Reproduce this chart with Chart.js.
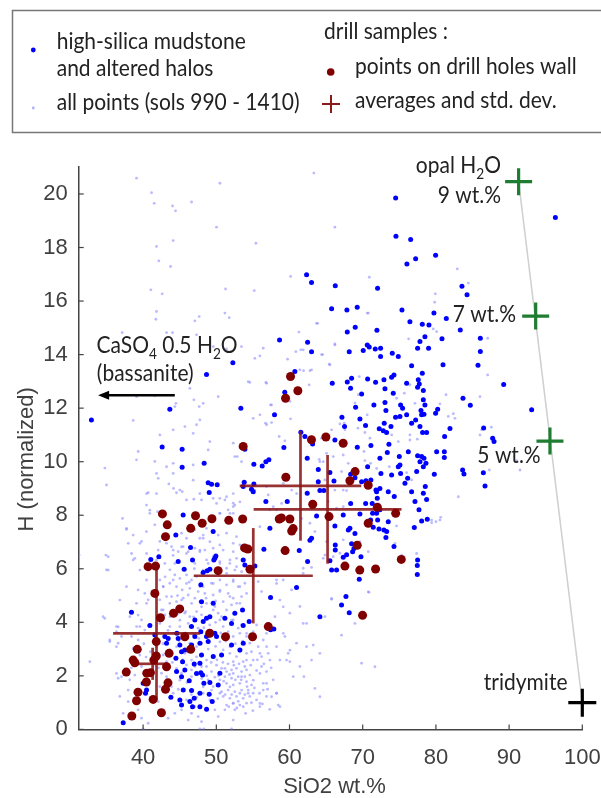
<!DOCTYPE html>
<html><head><meta charset="utf-8">
<script src="https://cdn.jsdelivr.net/npm/chart.js@4.4.0/dist/chart.umd.min.js"></script>
<style>html,body{margin:0;padding:0;background:#fff;}#wrap{width:601px;height:798px;position:relative;}</style>
</head><body><div id="wrap"><canvas id="c"></canvas></div>
<script>
const xTicks=[40,50,60,70,80,90,100];
const yTicks=[0,2,4,6,8,10,12,14,16,18,20];

// all points (sols 990 - 1410): [SiO2 wt.%, H normalized]
const allPoints=[
[39.1,20.59],[41.15,20.05],[41.51,19.65],[50.49,20.4],[46.62,19.7],[44.02,19.55],[44.43,19.37],[50.03,18.76],[41.83,18.04],[44.11,18.26],[55.41,18.16],[42.15,17.5],[43.75,17.29],[60.15,16.92],[41.06,16.42],[42.61,16.27],[51.26,16.45],[55.18,16.39],[41.83,15.61],[41.74,15.32],[47.66,15.42],[47.07,15.26],[51.17,15.55],[51.77,15.38],[37.14,14.82],[43.2,14.82],[44.02,14.82],[47.3,14.74],[49.58,14.3],[51.4,14.21],[39.1,12.43],[41.6,12.46],[38.64,11.54],[44.48,12.18],[44.34,12.06],[46.39,12.74],[46.94,12.31],[48.21,12.18],[47.66,12.06],[50.26,12.43],[54.36,12.99],[56.87,12.93],[57.41,12.12],[56.87,11.38],[55.96,11.75],[60.06,12.25],[42.29,11.0],[44.11,11.19],[45.71,11.31],[47.3,11.38],[46.84,11.06],[47.75,11.56],[49.12,10.75],[48.89,10.44],[52.31,10.69],[52.86,10.19],[39.33,10.38],[41.6,10.01],[44.11,9.94],[46.84,9.88],[34.77,9.76],[39.1,10.07],
[35.0,9.13],[37.19,7.88],[37.73,7.47],[34.91,6.51],[35.23,5.95],[31.26,6.51],[32.72,2.53],[34.77,4.15],[36.59,3.83],[36.36,3.65],[35.45,3.34],[36.36,2.09],[37.05,1.97],[36.36,3.09],[36.59,1.91],[40.01,0.02],[47.76,0.02],[48.3,0.02],[52.08,0.02],[40.47,8.81],[40.92,8.19],[38.64,7.26],[39.55,6.95],[38.42,6.57],[41.83,8.81],[43.2,9.81],[44.11,9.56],[45.02,8.94],[41.83,9.56],[42.06,9.38],[46.84,9.31],[47.75,8.81],[45.93,8.57],[51.4,8.69],[52.31,8.81],[53.22,8.5],[50.03,8.44],[52.31,8.32],[50.49,8.07],[51.86,8.07],[59.15,9.19],[60.29,8.94],[57.78,8.32],[58.92,8.44],[60.97,8.81],[58.23,5.45],[58.69,4.83],[59.15,4.58],[58.01,4.21],[59.15,3.59],[58.23,3.09],[60.06,2.96],[59.6,2.59],[60.51,1.97],[58.23,1.35],[57.55,1.22],[58.69,0.85],[55.96,0.97],[56.41,1.47],
[40.69,8.84],[43.51,9.17],[44.15,9.0],[44.56,8.84],[45.34,8.88],[46.93,8.6],[47.98,8.57],[40.46,8.38],[41.97,8.13],[40.92,8.07],[37.73,7.51],[37.96,6.95],[39.78,7.02],[40.46,7.39],[41.6,7.64],[42.28,7.02],[42.06,6.7],[45.25,7.33],[45.93,7.14],[47.07,7.45],[47.75,7.14],[48.21,7.26],[43.88,6.83],[44.79,6.64],[45.47,6.83],[46.16,6.64],[47.07,6.77],[47.75,6.64],[35.22,6.45],[34.99,5.96],[38.87,6.39],[42.97,6.2],[43.65,5.96],[44.33,5.77],[45.02,5.64],[45.93,5.77],[46.61,5.58],[47.3,5.71],[47.98,5.83],[42.28,5.58],[42.74,5.33],[43.65,5.46],[44.56,5.33],[45.34,5.21],[46.38,5.27],[47.52,5.15],[48.2,5.33],[39.32,5.21],[40.23,5.08],[40.69,4.84],[39.1,4.71],[42.28,4.84],[43.2,4.96],[43.65,4.71],[44.56,4.77],[45.47,4.9],[46.16,5.02],[47.07,4.9],[47.75,4.77],[42.51,4.46],[42.97,4.28],[43.88,4.4],[45.7,4.34],[46.38,4.21],[47.3,4.4],[47.98,4.28],[39.32,4.27],[39.78,4.09],[39.1,3.84],[40.23,3.71],[34.54,4.21],[36.36,3.84],[37.05,3.47],[36.59,3.22],[35.45,3.28],[38.41,3.47],[39.32,3.34],[38.64,3.03],[39.55,2.78],[42.28,3.96],[43.65,3.84],[44.11,3.59],[45.02,3.84],[46.16,3.96],[46.84,3.53],[47.52,3.78],[43.65,2.97],[42.74,2.78],[43.2,2.53],[46.38,3.22],[47.3,3.09],[47.98,3.22],[46.61,2.59],[47.98,2.35],[39.78,2.35],[38.87,2.03],[38.18,1.85],[37.96,1.47],[36.82,1.23],[37.96,1.04],[39.32,0.73],[37.27,0.6],[42.51,2.1],[43.2,1.85],[42.28,1.6],[43.88,1.6],[44.56,2.28],[45.25,2.1],[45.93,2.41],[46.61,2.22],[47.07,2.35],[42.06,1.04],[44.33,0.6],[45.25,0.73],[46.61,0.6],[47.52,0.48],[46.16,0.35],[47.98,0.29],[39.78,0.42],[40.69,0.23],[43.42,0.42],
[49.57,8.63],[50.48,8.63],[51.17,8.57],[52.31,8.45],[52.53,8.38],[51.62,8.2],[50.48,8.07],[52.31,8.07],[55.27,8.94],[57.09,8.76],[56.86,9.07],[57.32,8.2],[55.95,7.57],[58.23,8.2],[48.66,7.51],[48.21,7.14],[49.12,7.01],[50.26,7.26],[51.4,7.33],[52.76,7.2],[52.31,6.95],[50.48,6.89],[48.43,6.7],[49.57,6.77],[50.94,6.7],[52.31,6.64],[53.22,6.89],[48.89,6.2],[50.48,6.27],[51.85,6.2],[52.76,6.39],[51.4,6.02],[52.53,5.95],[53.45,5.89],[49.34,5.46],[50.48,5.58],[51.4,5.4],[52.31,5.52],[52.99,5.33],[53.9,5.46],[55.72,5.52],[56.18,5.15],[58.23,5.58],[48.43,5.08],[49.57,5.02],[50.48,5.15],[51.62,5.08],[52.31,4.9],[53.45,4.96],[53.22,4.71],[52.08,4.65],[50.94,4.77],[49.8,4.59],[48.66,4.71],[51.4,4.46],[50.26,4.34],[50.48,4.09],[52.31,4.09],[52.99,3.78],[51.62,3.65],[50.94,3.84],[52.31,3.47],[53.22,3.59],[54.13,3.47],[55.04,3.65],[54.58,3.22],[55.72,3.09],[56.41,3.34],[56.86,3.59],[55.5,3.9],[53.22,2.97],[54.13,2.84],[52.76,2.72],[51.85,2.84],[50.94,2.97],[52.31,2.53],[53.67,2.53],[55.04,2.59],[56.18,2.72],[57.09,2.84],
[50.71,2.28],[51.4,2.16],[52.08,2.22],[52.76,2.28],[53.45,2.16],[54.13,2.22],[54.58,2.03],[53.9,1.97],[52.99,1.97],[52.08,1.91],[51.17,1.97],[50.48,1.85],[51.4,1.72],[52.31,1.66],[53.22,1.72],[54.13,1.78],[54.81,1.66],[54.36,1.47],[53.45,1.47],[52.53,1.41],[51.62,1.47],[50.71,1.41],[50.94,1.23],[51.85,1.16],[52.76,1.23],[53.67,1.16],[54.58,1.23],[55.04,1.35],[52.31,0.98],[51.4,0.91],[53.22,0.91],[54.13,0.98],[52.53,0.73],[51.17,0.73],[56.18,2.35],[56.86,2.16],[56.41,1.72],[57.77,1.85],[58.23,1.35],[56.86,1.23],[55.95,0.85],[58.46,0.91],[60.05,2.53],[61.42,2.35],[48.66,2.35],[49.34,2.16],[48.89,1.85],[49.57,1.6],[48.21,1.35],[49.12,1.1],[49.8,0.73],[50.26,0.48],[52.31,0.35],
[59.14,5.58],[60.28,5.21],[61.42,4.59],[60.05,4.34],[61.87,3.96],[59.37,3.47],[60.96,3.22],[62.33,3.09],[59.82,2.84],[58.68,2.59],[61.87,5.83],
[65.75,4.89],[64.84,4.21],[63.24,3.15],[64.15,2.84],[63.01,2.59],[63.47,1.53],[64.15,1.22],[69.85,2.47],[71.67,2.34],[70.76,5.14],[68.94,3.96],[67.11,3.52],[62.33,3.96],[61.97,1.97],[77.37,6.57],[80.55,7.82],[79.42,7.82],[74.4,6.95],[75.54,6.45],[83.06,8.69],[91.49,9.69],[87.3,9.69],
[63.33,20.78],[66.2,18.76],[82.92,17.2],[70.9,16.89],[79.92,16.27],[79.83,15.96],[84.43,16.67],[70.76,15.55],[63.7,15.17],[66.2,14.4],[79.64,14.96],[80.1,14.86],[76.27,14.59],[87.07,14.61],[61.88,14.18],[62.79,13.4],[61.42,13.43],[65.52,13.62],[64.38,14.0],[69.53,13.18],[70.76,13.06],[76.45,12.87],[77.59,12.91],[87.07,13.24],[86.02,12.43],[68.94,12.19],[69.39,12.5],[80.55,12.16],[81.38,12.5],[81.69,11.69],[82.38,11.79],[86.02,11.0],[67.48,11.44],[65.75,11.19],[64.38,10.88],[70.99,10.88],[70.17,10.38],[76.45,10.81],[77.46,10.84],[82.6,11.62],[87.57,11.29],[86.25,11.19],[91.03,10.04],
[63.83,15.17],[61.28,14.84],[53.44,14.3],[55.27,13.86],[55.95,13.95],[56.41,14.24],[59.73,13.83],[64.52,14.0],[66.2,14.36],[70.62,15.55],[61.55,14.18],[60.87,14.11],[61.92,13.4],[63.01,13.43],[65.43,13.64],[54.58,12.96],[56.77,12.96],[62.69,12.87],[57.55,12.12],[56.72,11.44],[57.55,11.46],[60.14,11.6],[55.04,11.62],[52.53,10.19],[53.44,10.0],[58.59,10.94],[59.37,10.78],[64.15,10.0],[65.52,9.57],[64.83,9.32],[69.35,11.25],[70.62,11.75],[70.3,11.09],[77.14,12.18],[74.63,12.37],[75.68,12.56],[66.88,11.41],[67.57,11.19],[73.95,11.0],[74.86,10.75],[76.45,11.0],
[64.06,10.09],[64.61,10.0],[65.06,10.31],[65.98,10.19],[67.34,10.25],[68.03,9.94],[70.3,10.04],[71.08,9.94],[73.63,9.81],[76.0,9.59],[76.68,9.32],[79.42,7.72],[80.65,7.92],[80.01,7.76],[71.9,9.75],[67.11,9.63],[66.2,8.94],[67.34,8.94],[67.8,8.92],[66.43,8.26],[65.29,8.51],[67.34,8.32],[63.01,8.26],[62.79,7.7],[63.47,7.39],[61.65,7.88],[65.06,7.01],[64.84,6.51],[64.61,6.39],[66.89,6.58],[65.98,6.45],[67.34,7.08],[69.62,7.01],[70.76,6.64],[74.63,7.6],[75.32,6.51],[70.85,5.12],[65.75,4.86],[61.88,6.02],[63.01,6.05],
[43.2,6.95],[44.11,6.7],[45.25,6.82],[45.93,6.57],[47.76,6.7],[48.67,6.33],[49.58,6.45],[50.49,6.2],[51.86,6.33],[52.77,6.08],[53.91,6.33],[44.34,6.2],[47.07,6.2],[48.21,5.95],[51.4,5.83],[52.31,5.58],[53.22,5.33],[54.13,5.08],[44.11,5.58],[45.93,5.45],[47.76,5.33],[49.58,5.45],[50.49,5.2],[51.86,4.96],[52.77,4.71],[53.68,4.46],[43.88,4.96],[45.25,4.83],[46.62,4.71],[47.98,4.58],[49.58,4.46],[50.72,4.21],[52.08,4.08],[53.45,3.9],[54.13,3.59],[43.66,4.21],[45.02,4.08],[46.39,3.84],[47.76,3.71],[49.12,3.46],[50.49,3.27],[51.86,3.09],[53.22,2.9],[54.13,2.59],[55.96,2.84],[56.87,3.09],[57.32,2.59],[43.43,3.34],[44.57,3.09],[45.71,2.84],[47.3,2.71],[48.67,2.59],[50.03,2.4],[51.17,2.28],[52.31,2.09],[53.45,1.97],[55.05,1.84],[55.96,2.09],[56.87,1.72],[51.86,1.59],[50.49,1.35],[49.35,1.47],[48.21,1.59],[53.22,1.35],[54.36,1.35],[55.5,1.1],[52.31,0.97],[53.68,0.85],[45.93,1.1],[47.07,0.85],[44.11,1.35],[45.02,1.84],[43.2,1.97],[46.62,1.97],[41.83,3.09],[42.74,4.46],[41.38,5.08],[40.47,5.58],[42.74,5.33],[41.83,6.33],[40.47,6.57],[39.55,5.95],[38.64,6.33],[37.73,5.33],[36.82,4.83],[38.19,4.21],[39.55,3.84],[40.47,4.71],
[50.1,2.6],[50.9,2.5],[51.6,2.45],[52.4,2.4],[53.1,2.45],[53.9,2.35],[54.7,2.4],[55.5,2.2],[50.3,2.0],[51.0,1.8],[51.8,2.05],[52.6,1.85],[53.4,1.85],[54.2,1.6],[55.2,1.55],[50.2,1.15],[51.2,1.3],[52.1,1.3],[53.0,1.05],[53.9,1.3],[54.8,1.0],[51.7,0.85],[52.8,0.8],[49.8,1.95],[49.3,2.5],[48.9,3.0],[49.9,3.1],[50.6,3.6],[51.3,3.3],[52.6,3.2],[53.6,3.3],[54.8,2.9],[55.6,2.6],[56.5,2.45],[57.5,2.3],[57.0,1.5],[55.9,1.35],[56.3,0.95],[57.3,0.75],[54.0,0.6],[55.0,0.7],[46.0,1.75],[46.6,1.3],[47.3,1.2],[48.0,1.9],[48.7,2.0],[44.8,1.5],[45.4,2.6],[46.1,2.9],[44.0,2.5],[44.9,3.3],[45.8,3.6],[46.9,4.2],[47.6,3.4],[48.3,3.8],[49.1,3.9],[49.9,4.0],[48.6,4.9],[49.9,4.8],[45.8,4.4],[44.7,4.3],[43.4,3.7],[42.7,3.2],[41.0,2.9],[40.1,3.2],[38.9,2.6],[38.4,2.3],[40.4,2.7],[42.1,2.3],[44.7,5.0],[46.3,5.5],[47.0,6.0],[43.0,5.7],[44.1,6.5]
];

// high-silica mudstone and altered halos
const mudstonePoints=[
[32.94,11.56],[48.66,13.26],[43.65,11.96],[59.35,12.59],[42.6,10.55],[45.33,10.46],[53.9,10.46],[45.33,9.79],[48.34,9.94],
[48.89,9.21],[49.35,9.16],[50.12,9.14],[49.03,8.85],
[63.01,16.69],[66.25,16.57],[72.03,16.48],[65.75,15.71],[67.84,15.67],[69.25,15.77],[75.36,15.67],[76.45,15.23],[78.14,15.13],[79.05,15.11],[68.98,15.02],[67.89,14.84],[71.94,14.91],[78.5,14.67],[77.82,14.49],[77.5,14.24],[79.0,14.24],[58.64,14.55],[62.47,14.46],[63.01,14.11],[68.16,14.11],[70.07,14.15],[70.62,14.36],[70.89,14.28],[71.71,14.21],[72.44,14.24],[72.44,13.93],[74.04,14.05],[74.86,13.93],[76.68,13.58],[78.14,13.3],[52.26,13.7],[60.73,13.37],[65.84,12.93],[67.89,12.98],[68.48,13.12],[68.34,12.74],[70.67,13.09],[71.76,12.97],[72.9,13.06],[73.95,13.15],[74.27,13.24],[76.0,12.93],[77.59,13.06],[77.73,12.9],[77.5,12.78],[78.28,12.66],[73.04,12.72],[69.85,12.53],[71.53,12.12],[73.04,12.21],[73.17,11.91],[74.17,12.56],[78.28,12.31],[78.5,12.12],[77.96,11.91],[78.37,11.77],[75.18,12.12],[75.45,12.0],[69.03,12.03],[69.62,11.59],[67.16,11.66],[67.52,11.31],[70.39,11.35],[72.26,11.23],[72.81,11.16],[73.26,11.09],[73.86,11.31],[74.49,11.66],[75.09,11.69],[76.0,11.75],[76.68,11.44],[77.23,11.56],[78.05,11.75],[77.82,11.31],[78.18,11.09],[78.73,11.09],[72.94,11.44],[53.35,12.0],[57.95,11.75],[61.55,11.1],[62.1,10.94],[59.23,10.53],[55.13,9.9],[56.27,9.84],[56.77,10.0],[57.18,10.07],[53.81,9.23],[55.13,9.17],
[74.5,19.85],[96.32,19.12],[74.54,18.42],[76.55,18.3],[79.96,17.71],[77.23,17.58],[76.04,17.38],[62.33,16.98],[83.56,16.55],[84.25,16.24],[79.73,15.55],[81.42,15.35],[83.33,14.92],[86.07,14.61],[80.83,14.59],[86.07,14.12],[85.75,13.6],[80.97,13.62],[89.26,12.88],[83.7,12.37],[84.7,12.11],[93.08,11.94],[86.52,11.26],[87.75,10.88],[87.94,10.75],[81.19,10.94],[81.92,11.24],[79.96,11.81],[80.24,11.96],
[83.65,9.69],[83.83,9.54],[86.48,9.59],[86.71,9.09],[64.15,4.21],[68.16,4.36],
[63.15,10.66],[66.2,10.81],[69.26,10.54],[71.12,10.6],[73.58,10.65],[73.36,10.34],[75.0,10.19],[76.23,10.37],[77.5,10.22],[78.05,10.19],[78.37,10.13],[77.82,10.0],[78.64,9.94],[78.28,9.81],[77.37,9.63],[79.78,9.53],[80.1,10.37],[81.15,10.37],[81.15,10.16],[72.35,10.13],[72.49,9.56],[70.67,9.81],[73.95,9.5],[75.09,9.88],[75.18,9.56],[74.86,9.81],[76.14,9.38],[75.77,9.19],[78.55,9.07],[76.68,8.88],[78.28,8.82],[78.73,8.59],[77.14,8.51],[74.31,8.7],[73.49,8.88],[72.35,9.0],[71.9,8.88],[71.99,8.63],[71.3,8.44],[70.4,8.44],[71.35,8.07],[72.35,8.2],[71.9,8.07],[72.04,7.82],[71.08,7.82],[73.49,7.76],[72.22,7.49],[72.9,7.45],[73.27,7.39],[73.17,7.17],[74.27,6.83],[71.44,7.55],[69.62,8.05],[68.35,8.44],[67.34,8.01],[68.25,7.51],[68.03,7.45],[68.94,7.32],[68.48,6.93],[68.8,6.76],[68.62,6.64],[69.76,6.45],[67.8,6.52],[67.34,6.43],[66.25,6.89],[66.25,6.7],[65.52,6.3],[65.75,5.95],[66.43,5.95],[69.53,5.61],[67.71,4.96],[67.11,4.65],[77.5,6.33],[77.46,6.12],[77.46,5.79],[77.05,7.54],[77.69,8.2],[78.05,7.78],[78.82,7.85],[64.15,8.92],[64.7,8.92],[63.93,9.25],[63.93,9.71],[62.42,10.13],[62.42,8.82],[63.7,7.97],[62.79,7.07],[63.01,7.14],[62.47,6.27],[66.2,7.6],[68.35,9.53],[68.94,9.4],[69.85,9.25],[70.44,9.29],[71.12,9.32],[71.81,8.94],[66.07,9.28],[65.52,9.6],
[45.47,8.01],[44.47,7.26],[46.48,6.79],[42.15,6.45],[41.05,6.35],[44.79,6.27],[46.75,6.33],[45.61,5.98],[47.89,5.4],[38.41,4.38],[40.92,3.88],[42.97,3.47],[43.42,3.4],[44.61,3.59],[44.79,3.4],[46.61,3.84],[47.07,3.47],[47.89,3.65],[41.6,3.53],[47.98,4.77],[47.07,4.09],[43.2,3.22],
[37.28,0.25],[40.01,1.72],[40.47,1.47],[40.33,1.35],[43.2,2.41],[43.79,1.2],[44.48,2.66],[45.25,2.9],[45.7,2.97],[45.39,2.53],[44.57,2.16],[45.7,2.22],[46.98,2.44],[47.76,2.47],[45.25,1.97],[46.3,1.82],[47.3,2.09],[47.89,2.12],[48.12,2.03],[46.62,1.45],[45.48,1.47],[46.98,1.16],[47.76,1.35],[45.02,1.1],[45.25,0.91],[46.39,1.04],[46.75,0.85],[47.76,0.85],[48.67,0.75],[49.44,1.04],[48.3,1.72],[49.12,1.75],[50.49,2.1],[50.26,1.66],[49.03,1.31],[45.02,3.15],[46.62,3.15],[47.76,3.22],[48.89,3.28],[47.98,2.78],[49.58,2.72],[50.72,2.78],[52.08,3.15],[53.68,3.22],[53.22,2.97],
[53.67,9.07],[54.81,8.97],[55.04,8.88],[56.77,8.51],[59.69,8.51],[57.32,7.51],[56.5,6.73],[61.33,6.68],[49.57,7.39],[49.94,6.48],[49.8,6.39],[49.66,6.33],[48.75,5.93],[48.21,5.86],[49.12,5.98],[53.67,6.33],[53.9,6.14],[55.27,6.1],[60.96,5.3],[57.41,4.93],[53.58,4.46],[52.53,4.34],[53.67,3.88],[54.49,4.03],[57.86,3.75],[57.41,3.72],[51.17,4.15],[52.08,3.96],[49.57,4.71],[49.12,4.21],[48.21,4.03],[48.66,4.15],[49.8,3.59],[50.03,3.47],[48.66,3.47]
];

// drill samples: points on drill holes wall
const drillPoints=[
[42.64,8.05],[43.3,7.64],[43.06,7.2],[47.16,7.98],[46.5,7.51],[48.07,7.7],[49.4,7.87],[51.7,7.81],[53.6,7.86],[53.86,6.78],[54.3,6.74],[54.6,5.98],[50.25,5.93],[54.95,3.46],[57.1,3.84],[51.26,3.46],[49.1,3.59],[45.7,3.46],[46.5,2.99],[44.15,4.34],[45.0,4.5],[42.37,4.17],[40.68,6.08],[41.7,6.1],[41.6,5.08],[41.8,3.28],[41.8,2.74],[43.55,2.84],[43.2,2.34],[39.2,2.99],[38.64,2.59],[38.87,2.49],[37.7,2.14],[40.5,2.1],[41.0,2.12],[40.45,1.77],[43.4,1.74],[43.06,1.5],[39.3,1.39],[39.1,1.07],[41.37,1.12],[42.5,0.62],[38.46,0.5],[41.46,2.59],
[59.5,9.42],[60.05,7.86],[58.6,7.86],[58.9,7.9],[60.3,7.41],[60.5,7.5],[59.4,6.68],[60.14,13.18],[61.14,12.65],[59.46,12.37],[53.67,10.57],[63.0,10.82],[64.97,10.92],[67.33,10.69],[68.96,9.63],[68.25,9.29],[70.75,9.12],[63.17,8.41],[65.4,7.95],[72.0,8.3],[74.5,8.07],[70.75,7.7],[69.25,6.88],[75.27,6.35],[67.57,6.1],[69.6,5.95],[71.76,5.99],[69.98,4.26]
];

// drill samples: averages and standard deviations
const avgX=[41.83,41.3,55.05,61.5,65.2];
const avgY=[3.59,2.45,5.74,9.1,8.22];
const sdX=[5.93,2.0,8.13,8.3,10.1];
const sdY=[2.49,0.6,1.78,2.05,2.03];

// opal with different H2O content, and tridymite end member
const opalX=[91.3,93.63,95.58];
const opalY=[20.46,15.44,10.77];
const opalLabels=['9 wt.%','7 wt.%','5 wt.%'];
const tridymiteX=[100];
const tridymiteY=[1.0];

// annotation anchors (data units)
const annot={
  opalTitle:{x:88.89,y:20.77},
  opalLab:[{x:88.89,y:19.65},{x:90.94,y:15.23},{x:94.31,y:9.96}],
  trid:{x:86.55,y:1.47},
  caso:{x:33.63,y:14.06},
  bass:{x:33.67,y:13.01},
  arrow:{x1:44.33,x2:33.85,y:12.48}
};

const pairs=a=>a.map(p=>({x:p[0],y:p[1]}));
const barSets=[];
for(let i=0;i<avgX.length;i++){
  const st={type:'scatter',showLine:true,pointRadius:0,borderColor:'rgba(139,22,22,0.88)',borderWidth:2.7,order:7,clip:false};
  barSets.push(Object.assign({data:[{x:avgX[i]-sdX[i],y:avgY[i]},{x:avgX[i]+sdX[i],y:avgY[i]}]},st));
  barSets.push(Object.assign({data:[{x:avgX[i],y:avgY[i]-sdY[i]},{x:avgX[i],y:avgY[i]+sdY[i]}]},st));
}

const FAM='Lato, "Open Sans", sans-serif';
const FS=23, SUB=15;
let HS=0.95;
function drawParts(ctx,parts,x,y,align){
  let total=0;
  parts.forEach(p=>{ctx.font=p.s+'px '+FAM;p.w=ctx.measureText(p.t).width;total+=p.w;});
  const x0=align==='right'?x-total*HS:x;
  ctx.save();ctx.translate(x0,y);ctx.scale(HS,1);
  let cx=0;
  parts.forEach(p=>{ctx.font=p.s+'px '+FAM;ctx.fillText(p.t,cx,p.dy||0);cx+=p.w;});
  ctx.restore();
}

const extras={
  id:'extras',
  afterDraw(chart){
    const ctx=chart.ctx,xs=chart.scales.x,ys=chart.scales.y,a=chart.chartArea;
    ctx.save();
    ctx.font=FS+'px '+FAM;
    HS=221.7/ctx.measureText('points on drill holes wall').width;
    // inward tick marks
    ctx.strokeStyle='#444';ctx.lineWidth=1.2;
    xTicks.forEach(v=>{const p=xs.getPixelForValue(v);ctx.beginPath();ctx.moveTo(p,a.bottom);ctx.lineTo(p,a.bottom-5);ctx.stroke();});
    yTicks.forEach(v=>{const p=ys.getPixelForValue(v);ctx.beginPath();ctx.moveTo(a.left,p);ctx.lineTo(a.left+5,p);ctx.stroke();});
    // axis titles
    ctx.fillStyle='#404040';ctx.textBaseline='alphabetic';
    ctx.font='22px "Liberation Sans", Arial, sans-serif';
    ctx.textAlign='center';
    ctx.fillText('SiO2 wt.%',(a.left+a.right)/2+4,793);
    ctx.save();ctx.translate(33,(a.top+a.bottom)/2+11);ctx.rotate(-Math.PI/2);
    ctx.fillText('H (normalized)',0,0);ctx.restore();
    ctx.textAlign='left';
    // legend box
    ctx.strokeStyle='#777';ctx.lineWidth=1.5;
    ctx.strokeRect(12.5,10.5,590,122);
    ctx.fillStyle='#0000ff';ctx.beginPath();ctx.arc(33.3,50,2.4,0,Math.PI*2);ctx.fill();
    ctx.fillStyle='rgba(140,140,255,0.7)';ctx.beginPath();ctx.arc(33.3,108,1.4,0,Math.PI*2);ctx.fill();
    ctx.fillStyle='#800000';ctx.beginPath();ctx.arc(330.7,72,3.8,0,Math.PI*2);ctx.fill();
    ctx.strokeStyle='#8b1a1a';ctx.lineWidth=2;
    ctx.beginPath();ctx.moveTo(322,104);ctx.lineTo(340,104);ctx.moveTo(331,95);ctx.lineTo(331,113);ctx.stroke();
    ctx.fillStyle='#222';
    drawParts(ctx,[{t:'high-silica mudstone',s:FS}],56.7,49);
    drawParts(ctx,[{t:'and altered halos',s:FS}],56.7,76);
    drawParts(ctx,[{t:'all points (sols 990 - 1410)',s:FS}],56.7,110);
    drawParts(ctx,[{t:'drill samples :',s:FS}],324,39.3);
    drawParts(ctx,[{t:'points on drill holes wall',s:FS}],355,74);
    drawParts(ctx,[{t:'averages and std. dev.',s:FS}],355,108.3);
    // annotations
    const X=v=>xs.getPixelForValue(v),Y=v=>ys.getPixelForValue(v);
    drawParts(ctx,[{t:'opal H',s:FS},{t:'2',s:SUB,dy:6},{t:'O',s:FS}],X(annot.opalTitle.x),Y(annot.opalTitle.y),'right');
    opalLabels.forEach((t,i)=>{const o=annot.opalLab[i];drawParts(ctx,[{t:t,s:FS}],X(o.x),Y(o.y),'right');});
    drawParts(ctx,[{t:'tridymite',s:FS}],X(annot.trid.x),Y(annot.trid.y));
    drawParts(ctx,[{t:'CaSO',s:FS},{t:'4',s:SUB,dy:6},{t:' 0.5 H',s:FS},{t:'2',s:SUB,dy:6},{t:'O',s:FS}],X(annot.caso.x),Y(annot.caso.y));
    drawParts(ctx,[{t:'(bassanite)',s:FS}],X(annot.bass.x),Y(annot.bass.y));
    // arrow
    const ax1=X(annot.arrow.x1),ax2=X(annot.arrow.x2),ay=Y(annot.arrow.y);
    ctx.strokeStyle='#000';ctx.fillStyle='#000';ctx.lineWidth=2.5;
    ctx.beginPath();ctx.moveTo(ax1,ay);ctx.lineTo(ax2+8,ay);ctx.stroke();
    ctx.beginPath();ctx.moveTo(ax2,ay);ctx.lineTo(ax2+11,ay-4.5);ctx.lineTo(ax2+11,ay+4.5);ctx.closePath();ctx.fill();
    ctx.restore();
  }
};

const tickFont={family:'"Liberation Sans", Arial, sans-serif',size:22};
new Chart(document.getElementById('c'),{
  type:'scatter',
  data:{datasets:[
    {data:[{x:opalX[0],y:opalY[0]},{x:tridymiteX[0],y:tridymiteY[0]}],showLine:true,pointRadius:0,borderColor:'#cfcfcf',borderWidth:1.5,order:10,clip:false},
    {data:pairs(allPoints),pointRadius:1.4,backgroundColor:'rgba(140,140,255,0.6)',borderWidth:0,order:9},
    {data:pairs(mudstonePoints),pointRadius:2.5,backgroundColor:'#0000ff',borderWidth:0,order:8},
    ...barSets,
    {data:pairs(drillPoints),pointRadius:4.5,backgroundColor:'#800000',borderWidth:0,order:6},
    {data:opalX.map((v,i)=>({x:v,y:opalY[i]})),pointStyle:'cross',pointRadius:13.5,borderColor:'#1f7d32',borderWidth:3.2,pointBorderWidth:3.2,order:5,clip:false},
    {data:tridymiteX.map((v,i)=>({x:v,y:tridymiteY[i]})),pointStyle:'cross',pointRadius:14,borderColor:'#000',borderWidth:3.2,pointBorderWidth:3.2,order:4,clip:false}
  ]},
  options:{
    responsive:true,maintainAspectRatio:false,animation:false,events:[],
    layout:{padding:{top:167.2,right:18.7,left:0,bottom:0}},
    plugins:{legend:{display:false},tooltip:{enabled:false}},
    scales:{
      x:{type:'linear',min:31.2,max:100,
        grid:{display:false,drawTicks:false},
        border:{display:true,color:'#444',width:1.5},
        ticks:{color:'#404040',font:tickFont,padding:15,maxRotation:0},
        afterBuildTicks:s=>{s.ticks=xTicks.map(v=>({value:v}));},
        afterFit:s=>{s.height=68.6;s.paddingLeft=0;s.paddingRight=0;}},
      y:{type:'linear',min:0,max:21,
        grid:{display:false,drawTicks:false},
        border:{display:true,color:'#444',width:1.5},
        ticks:{color:'#404040',font:tickFont,padding:11},
        afterBuildTicks:s=>{s.ticks=yTicks.map(v=>({value:v}));},
        afterFit:s=>{s.width=78.7;s.paddingTop=0;s.paddingBottom=0;}}
    }
  },
  plugins:[extras]
});
</script></body></html>
